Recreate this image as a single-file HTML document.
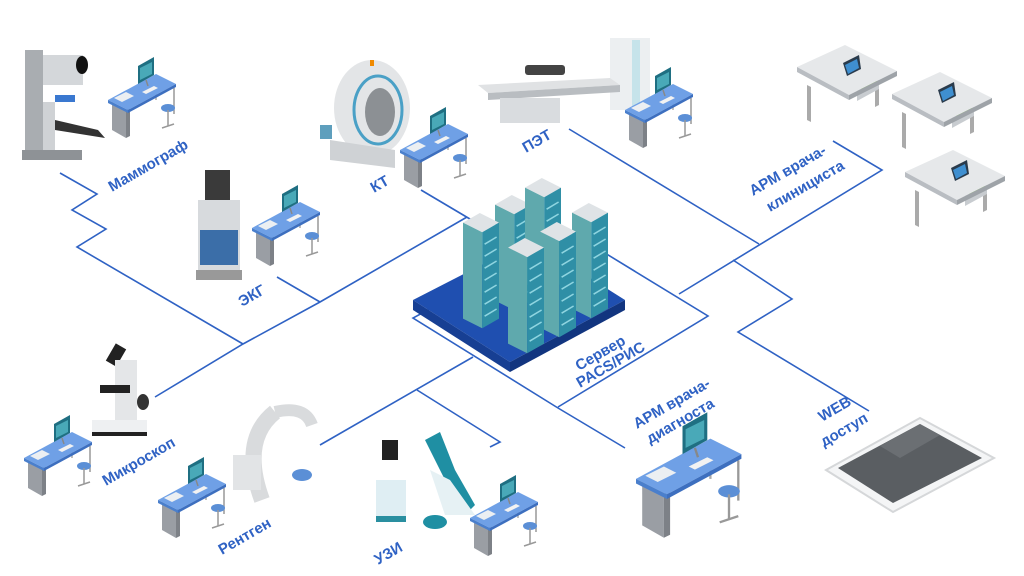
<!DOCTYPE html>
<html><head><meta charset="utf-8"><style>
html,body{margin:0;padding:0;background:#fff;}
svg{display:block}
.lb{font-family:"Liberation Sans","DejaVu Sans",sans-serif;font-weight:bold;fill:#2f62c4;font-size:15px}
</style></head><body>
<svg width="1024" height="576" viewBox="0 0 1024 576" xmlns="http://www.w3.org/2000/svg">
<defs>
<g id="desk">
 <polygon points="4,40 18,48 18,76 4,68" fill="#9a9ea4"/>
 <polygon points="18,48 22,46 22,74 18,76" fill="#7d8187"/>
 <line x1="66" y1="26" x2="66" y2="52" stroke="#999" stroke-width="1.5"/>
 <line x1="48" y1="14" x2="48" y2="38" stroke="#aaa" stroke-width="1.5"/>
 <polygon points="0,38 48,12 68,22 20,48" fill="#6fa0e6"/>
 <polygon points="0,38 20,48 20,51 0,41" fill="#4a7fcc"/>
 <polygon points="20,48 68,22 68,25 20,51" fill="#3d6fbf"/>
 <polygon points="6,36 18,30 26,34 14,40" fill="#eceff2"/>
 <polygon points="30,4 46,-5 46,13 30,22" fill="#1f6f82"/>
 <polygon points="32,6 44,0 44,12 32,18" fill="#49a9b8"/>
 <line x1="38" y1="18" x2="40" y2="24" stroke="#888" stroke-width="1.5"/>
 <polygon points="34,30 46,24 50,26 38,32" fill="#f2f2f2"/>
 <ellipse cx="60" cy="46" rx="7" ry="4" fill="#5b8fd6"/>
 <line x1="60" y1="48" x2="60" y2="64" stroke="#999" stroke-width="1.5"/>
 <line x1="54" y1="66" x2="66" y2="62" stroke="#999" stroke-width="1.5"/>
</g>
<g id="cdesk">
 <polygon points="10,40 10,75 14,77 14,42" fill="#aaa"/>
 <polygon points="78,30 78,62 82,60 82,28" fill="#aaa"/>
 <polygon points="60,38 82,26 82,44 60,56" fill="#c8ccd0"/>
 <polygon points="64,40 80,31 80,37 64,46" fill="#7ccf3a"/>
 <polygon points="0,22 48,0 100,26 52,50" fill="#e6e8ea"/>
 <polygon points="0,22 52,50 52,55 0,27" fill="#b9bdc2"/>
 <polygon points="52,50 100,26 100,31 52,55" fill="#9ea3a8"/>
 <polygon points="46,18 62,10 64,24 50,31" fill="#2a3b4c"/>
 <polygon points="48,20 60,14 62,23 51,29" fill="#3f8fd0"/>
</g>
<g id="rack">
 <polygon points="0,8 14,0 30,8 16,16" fill="#dfe3e6"/>
 <polygon points="0,8 16,16 16,96 0,88" fill="#5fa9ad"/>
 <polygon points="16,16 30,8 30,88 16,96" fill="#2f8fa6"/>
 <g stroke="#8fd5e0" stroke-width="1.3">
 <line x1="18" y1="26" x2="28" y2="20"/><line x1="18" y1="36" x2="28" y2="30"/><line x1="18" y1="46" x2="28" y2="40"/><line x1="18" y1="56" x2="28" y2="50"/><line x1="18" y1="66" x2="28" y2="60"/><line x1="18" y1="76" x2="28" y2="70"/><line x1="18" y1="86" x2="28" y2="80"/>
 </g>
</g>
</defs>

<g stroke="#2f62c4" stroke-width="1.6" fill="none">
 <polyline points="60,173 97,194 72,210 106,229 77,247 243,344"/>
 <polyline points="155,397 243,344 320,302 467,217"/>
 <line x1="277" y1="277" x2="320" y2="302"/>
 <line x1="421" y1="190" x2="475" y2="222"/>
 <line x1="569" y1="129" x2="759" y2="244"/>
 <polyline points="833,141 882,170 679,294"/>
 <polyline points="733,260 792,299 738,332 869,411"/>
 <polyline points="600,250 708,316 558,407"/>
 <polyline points="465,290 413,318 558,408 625,448"/>
 <polyline points="320,445 473,357"/>
 <polyline points="417,390 500,442 490,447"/>
</g>

<polygon points="413,300 530,240 625,300 510,362" fill="#1f4fb0"/>
<polygon points="413,300 510,362 510,372 413,310" fill="#173f93"/>
<polygon points="510,362 625,300 625,310 510,372" fill="#12357f"/>
<use href="#rack" transform="translate(495,195) scale(1.2)"/>
<use href="#rack" transform="translate(525,178) scale(1.2)"/>
<use href="#rack" transform="translate(463,213) scale(1.2)"/>
<use href="#rack" transform="translate(572,203) scale(1.2)"/>
<use href="#rack" transform="translate(540,222) scale(1.2)"/>
<use href="#rack" transform="translate(508,238) scale(1.2)"/>

<rect x="25" y="50" width="18" height="108" fill="#a9adb1"/>
<rect x="43" y="55" width="40" height="30" fill="#d4d7da"/>
<ellipse cx="82" cy="65" rx="6" ry="9" fill="#111"/>
<polygon points="55,95 75,95 75,102 55,102" fill="#3a78d0"/>
<polygon points="55,120 98,130 105,138 55,130" fill="#333"/>
<rect x="43" y="102" width="12" height="50" fill="#cfd2d5"/>
<rect x="22" y="150" width="60" height="10" fill="#8e9296"/>
<use href="#desk" x="108" y="62"/>

<ellipse cx="372" cy="108" rx="38" ry="48" fill="#e3e5e7"/>
<ellipse cx="378" cy="110" rx="24" ry="34" fill="none" stroke="#4aa0c6" stroke-width="3"/>
<ellipse cx="380" cy="112" rx="15" ry="24" fill="#8c9094"/>
<polygon points="330,140 395,150 395,168 330,160" fill="#cfd2d5"/>
<rect x="370" y="60" width="4" height="6" fill="#f08a00"/>
<rect x="320" y="125" width="12" height="14" fill="#5e9fbd"/>
<use href="#desk" x="400" y="112"/>

<rect x="610" y="38" width="40" height="72" fill="#eceff1"/>
<rect x="632" y="40" width="8" height="70" fill="#c6e3ea"/>
<polygon points="478,85 610,78 620,85 488,93" fill="#e0e2e4"/>
<polygon points="488,93 620,85 620,92 488,100" fill="#b9bdc1"/>
<rect x="500" y="98" width="60" height="25" fill="#d9dcdf"/>
<rect x="525" y="65" width="40" height="10" fill="#444" rx="3"/>
<use href="#desk" x="625" y="72"/>

<rect x="205" y="170" width="25" height="30" fill="#3a3a3a"/>
<rect x="198" y="200" width="42" height="70" fill="#d7dadd"/>
<rect x="200" y="230" width="38" height="35" fill="#3b6ea8"/>
<rect x="196" y="270" width="46" height="10" fill="#999"/>
<use href="#desk" x="252" y="190"/>

<rect x="110" y="345" width="12" height="20" fill="#222" transform="rotate(30 116 355)"/>
<rect x="115" y="360" width="22" height="60" fill="#e4e6e8"/>
<rect x="100" y="385" width="30" height="8" fill="#222"/>
<ellipse cx="143" cy="402" rx="6" ry="8" fill="#333"/>
<rect x="92" y="420" width="55" height="14" fill="#eef0f2"/>
<rect x="92" y="432" width="55" height="4" fill="#222"/>
<use href="#desk" x="24" y="420"/>

<path d="M275,412 Q240,440 262,500" stroke="#d9dbdd" stroke-width="16" fill="none"/>
<path d="M275,412 Q305,405 312,425" stroke="#d9dbdd" stroke-width="12" fill="none"/>
<rect x="233" y="455" width="28" height="35" fill="#e2e4e6"/>
<ellipse cx="302" cy="475" rx="10" ry="6" fill="#5b8fd6"/>
<use href="#desk" x="158" y="462"/>

<rect x="382" y="440" width="16" height="20" fill="#222"/>
<rect x="376" y="480" width="30" height="40" fill="#dfeef3"/>
<rect x="376" y="516" width="30" height="6" fill="#2a8fa0"/>
<polygon points="425,440 440,432 455,470 475,505 465,515 445,480" fill="#1f8fa3"/>
<polygon points="430,470 450,480 475,515 445,515" fill="#e6f1f4"/>
<ellipse cx="435" cy="522" rx="12" ry="7" fill="#1f8fa3"/>
<use href="#desk" x="470" y="480"/>

<use href="#desk" transform="translate(636,420) scale(1.55)"/>

<use href="#cdesk" x="797" y="45"/>
<use href="#cdesk" x="892" y="72"/>
<use href="#cdesk" x="905" y="150"/>

<polygon points="826,470 920,418 994,458 893,512" fill="#f4f5f6" stroke="#d5d7d9" stroke-width="2"/>
<polygon points="838,468 920,424 982,458 893,503" fill="#5a5e62"/>
<polygon points="880,446 920,424 940,435 900,458" fill="#6b6f73"/>

<text class="lb" transform="translate(112,192) rotate(-30)">Маммограф</text>
<text class="lb" transform="translate(374,193) rotate(-30)">КТ</text>
<text class="lb" transform="translate(526,153) rotate(-30)">ПЭТ</text>
<text class="lb" transform="translate(242,307) rotate(-30)">ЭКГ</text>
<text class="lb" transform="translate(106,486) rotate(-30)">Микроскоп</text>
<text class="lb" transform="translate(222,555) rotate(-30)">Рентген</text>
<text class="lb" transform="translate(378,565) rotate(-30)">УЗИ</text>
<text class="lb" transform="translate(579,371) rotate(-30)">Сервер</text>
<text class="lb" transform="translate(580,388) rotate(-30)">PACS/РИС</text>
<text class="lb" transform="translate(753,196) rotate(-30)">АРМ врача-</text>
<text class="lb" transform="translate(770,212) rotate(-30)">клинициста</text>
<text class="lb" transform="translate(637,429) rotate(-30)">АРМ врача-</text>
<text class="lb" transform="translate(650,444) rotate(-30)">диагноста</text>
<text class="lb" transform="translate(822,422) rotate(-30)">WEB</text>
<text class="lb" transform="translate(824,447) rotate(-30)">доступ</text>
</svg>
</body></html>
